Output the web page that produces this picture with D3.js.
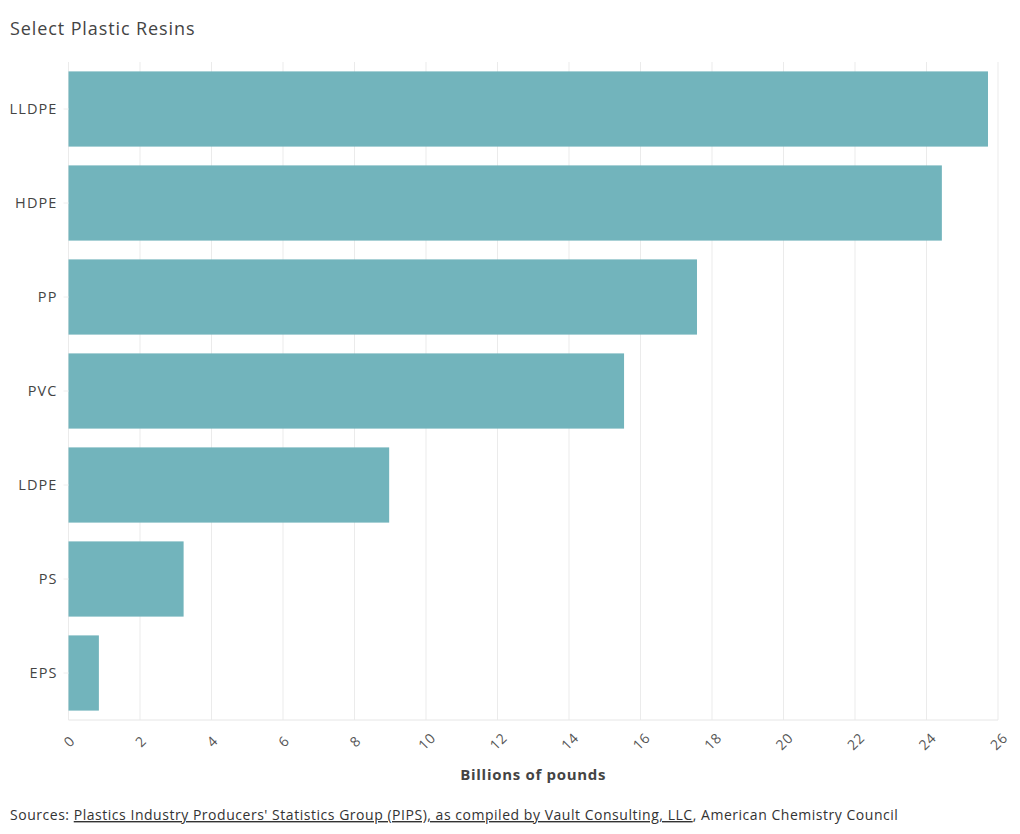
<!DOCTYPE html>
<html><head><meta charset="utf-8">
<script src="https://cdn.jsdelivr.net/npm/d3@7"></script>
<style>
body{margin:0;background:#fff;font-family:"Open Sans","Noto Sans",sans-serif;}
</style></head>
<body>
<svg id="chart" width="1020" height="834"></svg>
<script>
const categories = ["LLDPE","HDPE","PP","PVC","LDPE","PS","EPS"];
const values = [25.72, 24.43, 17.58, 15.54, 8.97, 3.22, 0.85];
const xTicks = [0,2,4,6,8,10,12,14,16,18,20,22,24,26];
const title = "Select Plastic Resins";
const xTitle = "Billions of pounds";

const svg = d3.select("#chart");
const font = '"Open Sans","Noto Sans",sans-serif';
const m = {left:68.5, right:998, top:62, bottom:720};

const x = d3.scaleLinear().domain([0,26]).range([m.left, m.right]);
const y = d3.scaleBand().domain(categories).range([m.top, m.bottom]).paddingInner(0.2).paddingOuter(0.1);

svg.append("text").attr("x",10).attr("y",35).attr("font-family",font).attr("font-size",18)
  .attr("letter-spacing",0.9).attr("fill","#444").text(title);

// grid
svg.append("g").selectAll("line").data(xTicks).join("line")
  .attr("x1",d=>x(d)).attr("x2",d=>x(d)).attr("y1",m.top).attr("y2",m.bottom)
  .attr("stroke","#ebebeb").attr("stroke-width",1);
svg.append("line").attr("x1",m.left).attr("x2",m.right).attr("y1",m.bottom).attr("y2",m.bottom)
  .attr("stroke","#e6e6e6");

// bars
svg.append("g").selectAll("rect").data(categories).join("rect")
  .attr("x",x(0)).attr("y",d=>y(d)).attr("height",y.bandwidth())
  .attr("width",(d,i)=>x(values[i])-x(0)).attr("fill","#6fb2bb").attr("fill-opacity",0.98);

// x axis
const xa = svg.append("g").attr("transform",`translate(0,${m.bottom})`)
  .call(d3.axisBottom(x).tickValues(xTicks).tickSize(0).tickFormat(d3.format("d")));
xa.select(".domain").remove();
xa.selectAll("text").attr("font-family",font).attr("font-size",14).attr("letter-spacing",0.6).attr("fill","#555")
  .attr("text-anchor","middle").attr("dy",0).attr("y",0)
  .attr("transform","translate(0,21) rotate(-45)")
  .attr("dominant-baseline","central");

// y axis
const ya = svg.append("g").attr("transform",`translate(${m.left},0)`)
  .call(d3.axisLeft(y).tickSize(5).tickPadding(6));
ya.select(".domain").remove();
ya.selectAll("line").attr("stroke","#eee");
ya.selectAll("text").attr("font-family",font).attr("font-size",14.5).attr("letter-spacing",1.1).attr("fill","#444");

svg.append("text").attr("x",(m.left+m.right)/2).attr("y",780).attr("text-anchor","middle")
  .attr("font-family",font).attr("font-size",15).attr("letter-spacing",0.7).attr("font-weight","bold").attr("fill","#444").text(xTitle);

const src = svg.append("text").attr("x",10).attr("y",820).attr("font-family",font).attr("font-size",14)
  .attr("letter-spacing",0.53).attr("fill","#333");
src.append("tspan").text("Sources: ");
src.append("tspan").attr("text-decoration","underline").text("Plastics Industry Producers' Statistics Group (PIPS), as compiled by Vault Consulting, LLC");
src.append("tspan").text(", American Chemistry Council");
</script>
</body></html>
